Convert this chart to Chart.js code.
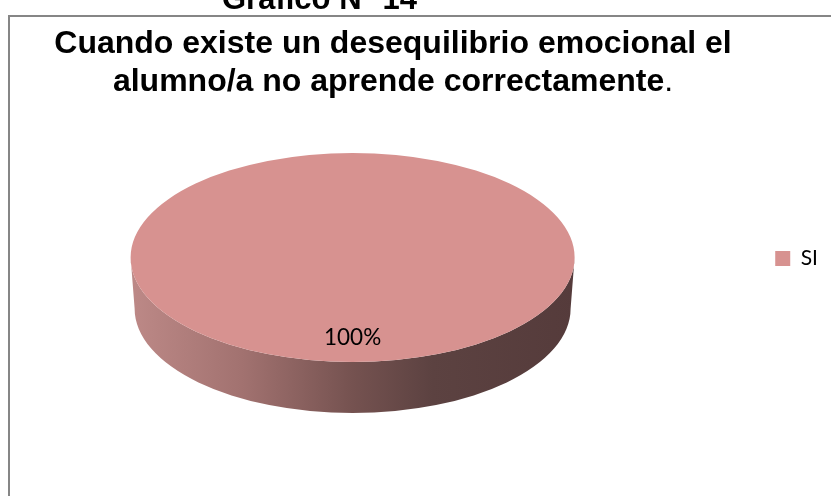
<!DOCTYPE html>
<html>
<head>
<meta charset="utf-8">
<style>
html,body{margin:0;padding:0;background:#fff;overflow:hidden}
#wrap{position:relative;width:831px;height:496px}
</style>
<script src="https://cdn.jsdelivr.net/npm/chart.js@4/dist/chart.umd.min.js"></script>
</head>
<body>
<div id="wrap"><canvas id="pie" width="831" height="496"></canvas></div>
<script>
const categories = ["SI"];
const seriesValues = [100];
const heading = "Gráfico N° 14";
const titleLines = ["Cuando existe un desequilibrio emocional el", "alumno/a no aprende correctamente\u00a0"];

const TITLE_FONT = "'Liberation Sans', Arial, sans-serif";
const LABEL_FONT = "Lato, 'Open Sans', sans-serif";
const TILT = 0.4707;    // vertical squash of the pie disc
const DEPTH = 51;       // height of the side wall
const TITLE_SIZE = 32, TITLE_LH = 38, TITLE_TOP = 25;

// white page, grey frame and the caption cut off above it
const framePlugin = {
  id: "frame",
  beforeDraw(chart) {
    const c = chart.ctx;
    c.save();
    c.fillStyle = "#fff";
    c.fillRect(0, 0, chart.width, chart.height);
    c.strokeStyle = "#868686";
    c.lineWidth = 2;
    c.beginPath();
    c.moveTo(9, chart.height);
    c.lineTo(9, 16);
    c.lineTo(chart.width, 16);
    c.stroke();
    c.fillStyle = "#000";
    c.font = "bold 31px " + TITLE_FONT;
    c.textAlign = "left";
    c.textBaseline = "alphabetic";
    c.fillText(heading, 222, 9);
    c.restore();
  },
  // the legend sits further right and lower than the space reserved for it
  afterLayout(chart) {
    chart.legend.left += 42;
    chart.legend.right += 42;
    chart.legend.top += 56;
    chart.legend.bottom += 56;
  },
  afterDraw(chart) {
    // regular weight full stop after the bold title
    const c = chart.ctx, t = chart.titleBlock;
    c.save();
    c.font = "bold " + TITLE_SIZE + "px " + TITLE_FONT;
    const w = c.measureText(titleLines[1]).width;
    const x = (t.left + t.right) / 2 + w / 2;
    c.font = TITLE_SIZE + "px " + TITLE_FONT;
    c.fillStyle = "#000";
    c.textAlign = "right";
    c.textBaseline = "middle";
    c.fillText(".", x, TITLE_TOP + TITLE_LH * 1.5);
    c.restore();
  }
};

// squashes the library's arc into a disc and puts a shaded wall under it
const tiltPlugin = {
  id: "tilt",
  beforeDatasetsDraw(chart) {
    const arc = chart.getDatasetMeta(0).data[0];
    const c = chart.ctx, r = arc.outerRadius, ry = r * TILT;
    const grad = c.createLinearGradient(arc.x - r, 0, arc.x + r, 0);
    grad.addColorStop(0, "#bd8987");
    grad.addColorStop(0.25, "#a27270");
    grad.addColorStop(0.5, "#755250");
    grad.addColorStop(0.68, "#5c4241");
    grad.addColorStop(1, "#553b3b");
    c.save();
    c.fillStyle = grad;
    c.beginPath();
    c.ellipse(arc.x, arc.y, r, ry, 0, 0, Math.PI);
    c.ellipse(arc.x, arc.y + DEPTH, r - 4, ry, 0, Math.PI, 0, true);
    c.closePath();
    c.fill();
    c.restore();
    c.save();
    c.translate(0, arc.y);
    c.scale(1, TILT);
    c.translate(0, -arc.y);
  },
  afterDatasetsDraw(chart) {
    chart.ctx.restore();
    const arc = chart.getDatasetMeta(0).data[0];
    const c = chart.ctx;
    const total = seriesValues.reduce((a, b) => a + b, 0);
    c.save();
    c.fillStyle = "#000";
    c.font = "22.5px " + LABEL_FONT;
    c.textAlign = "center";
    c.textBaseline = "middle";
    c.fillText(Math.round(seriesValues[0] / total * 100) + "%", arc.x, arc.y + arc.outerRadius * TILT * 0.77);
    c.restore();
  }
};

new Chart(document.getElementById("pie"), {
  type: "pie",
  data: {
    labels: categories,
    datasets: [{
      data: seriesValues,
      backgroundColor: ["#d79290"],
      borderWidth: 0,
      radius: 222
    }]
  },
  plugins: [framePlugin, tiltPlugin],
  options: {
    responsive: false,
    animation: false,
    layout: { padding: { left: 0, right: 45, top: 0, bottom: 91 } },
    plugins: {
      title: {
        display: true,
        text: titleLines,
        color: "#000",
        font: { family: TITLE_FONT, size: TITLE_SIZE, weight: "bold", lineHeight: TITLE_LH / TITLE_SIZE },
        padding: { top: TITLE_TOP, bottom: 9 }
      },
      legend: {
        display: true,
        position: "right",
        labels: {
          boxWidth: 15,
          boxHeight: 15,
          padding: 28,
          color: "#000",
          font: { family: LABEL_FONT, size: 21 }
        }
      },
      tooltip: { enabled: false }
    }
  }
});
</script>
</body>
</html>
